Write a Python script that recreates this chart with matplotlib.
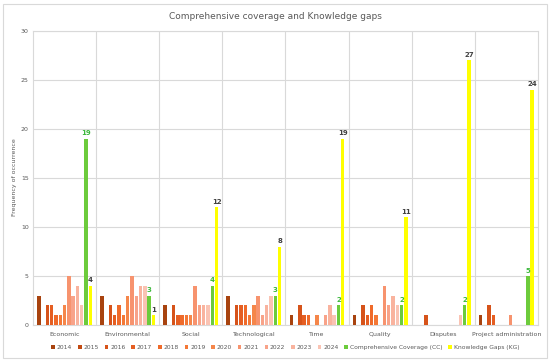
import numpy as np
import matplotlib
matplotlib.use("Agg")
import matplotlib.pyplot as plt
from matplotlib.patches import Rectangle

categories = ["Economic", "Environmental", "Social", "Technological", "Time",
              "Quality", "Disputes", "Project administration"]
years = ["2014", "2015", "2016", "2017", "2018", "2019", "2020",
         "2021", "2022", "2023", "2024"]

# rows = years, columns = categories
year_counts = [
    [3, 3, 2, 3, 1, 1, 0, 1],   # 2014
    [0, 0, 0, 0, 0, 0, 0, 0],   # 2015
    [2, 2, 2, 2, 2, 2, 1, 2],   # 2016
    [2, 1, 1, 2, 1, 1, 0, 1],   # 2017
    [1, 2, 1, 2, 1, 2, 0, 0],   # 2018
    [1, 1, 1, 1, 0, 1, 0, 0],   # 2019
    [2, 3, 1, 2, 1, 0, 0, 0],   # 2020
    [5, 5, 4, 3, 0, 4, 0, 1],   # 2021
    [3, 3, 2, 1, 1, 2, 0, 0],   # 2022
    [4, 4, 2, 2, 2, 3, 0, 0],   # 2023
    [2, 4, 2, 3, 1, 2, 1, 0],   # 2024
]
cc = [19, 3, 4, 3, 2, 2, 2, 5]
kg = [4, 1, 12, 8, 19, 11, 27, 24]

year_colors = ["#A8430F", "#C24A12", "#D6531A", "#E55E22", "#EF6A2A", "#F47836",
               "#F5864A", "#F7936E", "#F8A389", "#F9B39E", "#FAC3B3"]
cc_color = "#6CCB3C"
kg_color = "#FFFF00"

fig = plt.figure(figsize=(5.5, 3.62), dpi=100)
ax = fig.add_axes([0.06, 0.102, 0.918, 0.813])

n_series = len(years) + 2
step = 0.068
width = 0.054
x = np.arange(len(categories))
offsets = (np.arange(n_series) - (n_series - 1) / 2) * step

for i, yr in enumerate(years):
    ax.bar(x + offsets[i], year_counts[i], width, color=year_colors[i], label=yr, zorder=3)
cc_bars = ax.bar(x + offsets[-2], cc, width, color=cc_color,
                 label="Comprehensive Coverage (CC)", zorder=3)
kg_bars = ax.bar(x + offsets[-1], kg, width, color=kg_color,
                 label="Knowledge Gaps (KG)", zorder=3)

for b, v in zip(cc_bars, cc):
    ax.text(b.get_x() + b.get_width() / 2, v + 0.25, str(v), ha="center", va="bottom",
            fontsize=5, fontweight="bold", color="#3DB83D")
for b, v in zip(kg_bars, kg):
    ax.text(b.get_x() + b.get_width() / 2, v + 0.25, str(v), ha="center", va="bottom",
            fontsize=5, fontweight="bold", color="#404040")

ax.set_xlim(-0.5, len(categories) - 0.5)
ax.set_ylim(0, 30)
ax.set_yticks(range(0, 31, 5))
ax.set_xticks(x)
ax.set_xticklabels(categories)
ax.tick_params(axis="both", length=0, labelsize=4.5, labelcolor="#595959")
ax.tick_params(axis="x", pad=5)
ax.tick_params(axis="y", pad=3)

ax.yaxis.grid(True, color="#D9D9D9", linewidth=0.8, zorder=0)
for b in np.arange(0.5, len(categories) - 0.5, 1):
    ax.axvline(b, color="#D9D9D9", linewidth=0.8, zorder=0)
for s in ax.spines.values():
    s.set_color("#D9D9D9")
    s.set_linewidth(0.8)

fig.text(0.026, 0.51, "Frequency of occurrence", rotation=90, ha="center", va="center",
         fontsize=4.5, color="#595959")
fig.text(0.5, 0.955, "Comprehensive coverage and Knowledge gaps", ha="center", va="center",
         fontsize=6.5, color="#595959")

ax.legend(loc="upper center", bbox_to_anchor=(0.5, -0.05), ncol=13, frameon=False,
          fontsize=4.3, handlelength=0.6, handleheight=0.6, handletextpad=0.3,
          columnspacing=1.0, labelcolor="#595959")

fig.patches.append(Rectangle((0.006, 0.01), 0.988, 0.98, transform=fig.transFigure,
                             fill=False, edgecolor="#D9D9D9", linewidth=0.8))

fig.savefig("out.png", dpi=100)
